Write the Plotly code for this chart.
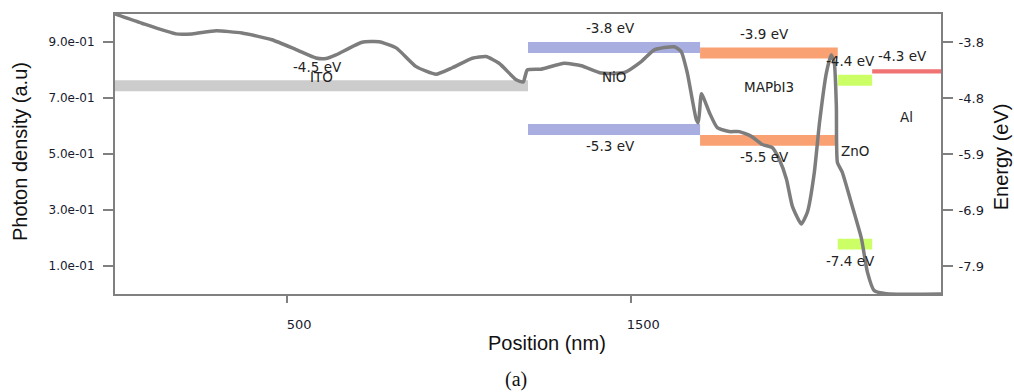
import plotly.graph_objects as go

# ---------------- data ----------------
position_nm = [0, 78, 177, 224, 294, 369, 456, 526, 584, 613, 642, 718, 767, 817, 875, 933,
               980, 1038, 1078, 1116, 1166, 1186, 1198, 1238, 1305, 1355, 1413, 1480, 1529,
               1567, 1625, 1645, 1663, 1689, 1695, 1704, 1727, 1750, 1785, 1814, 1849, 1881,
               1910, 1930, 1951, 1968, 1994, 2012, 2032, 2047, 2067, 2081, 2090, 2096, 2099,
               2113, 2142, 2169, 2186, 2206, 2241, 2400]
photon_density = [1.0, 0.967, 0.929, 0.929, 0.940, 0.932, 0.908, 0.873, 0.843, 0.841, 0.854,
                  0.899, 0.901, 0.879, 0.812, 0.785, 0.808, 0.842, 0.848, 0.824, 0.765, 0.757,
                  0.800, 0.803, 0.824, 0.815, 0.789, 0.791, 0.830, 0.872, 0.883, 0.866, 0.789,
                  0.623, 0.612, 0.715, 0.648, 0.594, 0.580, 0.580, 0.563, 0.534, 0.523, 0.481,
                  0.410, 0.314, 0.250, 0.293, 0.435, 0.612, 0.790, 0.854, 0.825, 0.669, 0.470,
                  0.435, 0.314, 0.197, 0.079, 0.012, 0.001, 0.0]

layer_names = ["ITO", "NiO", "MAPbI3", "ZnO", "Al"]
layer_start_nm = [0, 1200, 1700, 2100, 2200]
layer_end_nm = [1200, 1700, 2100, 2200, 2400]
upper_level_eV = [-4.5, -3.8, -3.9, -4.4, -4.3]
lower_level_eV = [None, -5.3, -5.5, -7.4, None]

x_ticks = [500, 1500]
density_ticks = [0.1, 0.3, 0.5, 0.7, 0.9]
density_tick_text = ["1.0e-01", "3.0e-01", "5.0e-01", "7.0e-01", "9.0e-01"]
energy_ticks = [-3.8, -4.825, -5.85, -6.875, -7.9]
energy_tick_text = ["-3.8", "-4.8", "-5.9", "-6.9", "-7.9"]

# ---------------- style ----------------
layer_colors = ["#cccccc", "#a9aee0", "#f9a172", "#ccff66", "#f07272"]
band_thickness = [0.2, 0.2, 0.2, 0.2, 0.075]
name_label_eV = [-4.44, -4.44, -4.62, -5.80, -5.18]
upper_label_offset = 0.25
lower_label_offset = -0.40
axis_color = "#808080"
tick_font = "DejaVu Sans, Verdana, sans-serif"
title_font = "Liberation Sans, Arial, sans-serif"

fig = go.Figure()

fig.add_trace(go.Scatter(
    x=position_nm, y=photon_density, mode="lines",
    line=dict(color="rgb(125,125,125)", width=3.5, shape="spline", smoothing=0.5),
    yaxis="y", showlegend=False, hoverinfo="skip"))

# invisible trace to activate y2
fig.add_trace(go.Scatter(x=[None], y=[None], yaxis="y2", showlegend=False, hoverinfo="skip"))

shapes = []
annotations = []
for i, name in enumerate(layer_names):
    x0, x1 = layer_start_nm[i], layer_end_nm[i]
    xc = (x0 + x1) / 2
    for lvl, off in ((upper_level_eV[i], upper_label_offset), (lower_level_eV[i], lower_label_offset)):
        if lvl is None:
            continue
        shapes.append(dict(type="rect", xref="x", yref="y2", x0=x0, x1=x1,
                           y0=lvl - band_thickness[i], y1=lvl,
                           fillcolor=layer_colors[i], line=dict(width=0), layer="below"))
        annotations.append(dict(x=xc, y=lvl + off, xref="x", yref="y2", text=f"{lvl} eV",
                                showarrow=False, xshift=-4,
                                font=dict(family=tick_font, size=13.5, color="#222222")))
    annotations.append(dict(x=xc, y=name_label_eV[i], xref="x", yref="y2", text=name,
                            showarrow=False,
                            font=dict(family=tick_font, size=13.5, color="#222222")))

annotations += [
    dict(x=0.523, y=-0.175, xref="paper", yref="paper", text="Position (nm)", showarrow=False,
         xanchor="center", yanchor="middle",
         font=dict(family=title_font, size=20, color="#111111")),
    dict(x=0.4855, y=-0.307, xref="paper", yref="paper", text="(a)", showarrow=False,
         xanchor="center", yanchor="middle",
         font=dict(family="Liberation Serif, Times New Roman, serif", size=20, color="#111111")),
    dict(x=-0.115, y=0.507, xref="paper", yref="paper", text="Photon density (a.u)",
         showarrow=False, textangle=-90, xanchor="center", yanchor="middle",
         font=dict(family=title_font, size=20, color="#111111")),
    dict(x=1.072, y=0.49, xref="paper", yref="paper", text="Energy (eV)",
         showarrow=False, textangle=-90, xanchor="center", yanchor="middle",
         font=dict(family=title_font, size=20, color="#111111")),
]

fig.update_layout(
    width=1014, height=392,
    margin=dict(l=115, r=73, t=14, b=98),
    plot_bgcolor="white", paper_bgcolor="white",
    shapes=shapes, annotations=annotations,
    xaxis=dict(range=[0, 2400], showline=True, linecolor=axis_color, linewidth=2, mirror=True,
               ticks="outside", ticklen=7, tickcolor=axis_color, tickwidth=1.5,
               tickvals=x_ticks, ticklabelshift=12, ticklabelstandoff=10,
               tickfont=dict(family=tick_font, size=13, color="#1a1a2e"),
               showgrid=False, zeroline=False),
    yaxis=dict(range=[0, 1.0], showline=True, linecolor=axis_color, linewidth=2, mirror=True,
               ticks="outside", ticklen=10, tickcolor=axis_color, tickwidth=1.5,
               tickvals=density_ticks, ticktext=density_tick_text, ticklabelstandoff=6,
               tickfont=dict(family=tick_font, size=12, color="#1a1a2e"),
               showgrid=False, zeroline=False),
    yaxis2=dict(range=[-8.4125, -3.2875], overlaying="y", side="right", showline=True,
                linecolor=axis_color, linewidth=2, ticks="outside", ticklen=10,
                tickcolor=axis_color, tickwidth=1.5,
                tickvals=energy_ticks, ticktext=energy_tick_text, ticklabelstandoff=3,
                tickfont=dict(family=tick_font, size=13, color="#1a1a2e"),
                showgrid=False, zeroline=False),
)

fig.write_html("out.html", config={"displayModeBar": False},
               post_script="document.body.style.margin='0';document.body.style.overflow='hidden';")
